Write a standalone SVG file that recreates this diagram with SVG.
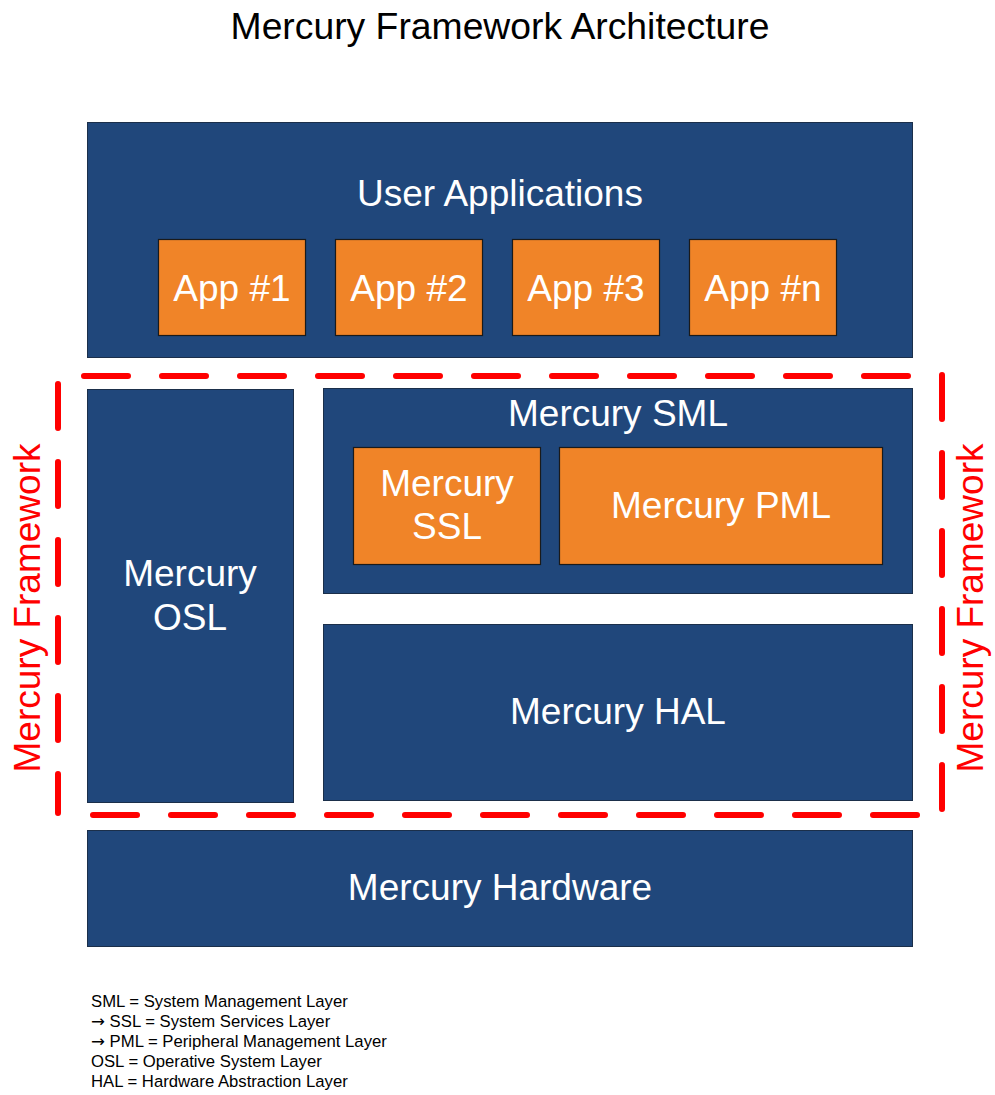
<svg xmlns="http://www.w3.org/2000/svg" width="995" height="1095" viewBox="0 0 995 1095">
<style>
.navy{fill:#20477B;stroke:#1B2F4A;stroke-width:1}
.orng{fill:#F08428;stroke:#1A1A1A;stroke-width:1.2}
.lbl{font-family:"Liberation Sans",Arial,sans-serif;font-size:37px;fill:#FFFFFF;text-anchor:middle}
.title{font-family:"Liberation Sans",Arial,sans-serif;font-size:37.3px;fill:#000000;text-anchor:middle}
.side{font-family:"Liberation Sans",Arial,sans-serif;font-size:37px;fill:#FF0000;text-anchor:middle}
.legend{font-family:"Liberation Sans",Arial,sans-serif;font-size:16.7px;fill:#000000}
.arr{font-family:"DejaVu Sans",sans-serif}
.dash{stroke:#FF0000;stroke-width:6;stroke-linecap:round;stroke-dasharray:44 34;fill:none}
</style>
<rect width="995" height="1095" fill="#FFFFFF"/>
<text class="title" x="500" y="39">Mercury Framework Architecture</text>

<g id="user-applications">
<rect class="navy" x="87.5" y="122.5" width="825" height="235"/>
<text class="lbl" x="500" y="206">User Applications</text>
</g>
<g id="app1">
<rect class="orng" x="158.5" y="239.5" width="147" height="96"/>
<text class="lbl" x="232" y="301">App #1</text>
</g>
<g id="app2">
<rect class="orng" x="335.5" y="239.5" width="147" height="96"/>
<text class="lbl" x="409" y="301">App #2</text>
</g>
<g id="app3">
<rect class="orng" x="512.5" y="239.5" width="147" height="96"/>
<text class="lbl" x="586" y="301">App #3</text>
</g>
<g id="appn">
<rect class="orng" x="689.5" y="239.5" width="147" height="96"/>
<text class="lbl" x="763" y="301">App #n</text>
</g>

<g id="mercury-osl">
<rect class="navy" x="87.5" y="389.5" width="206" height="413"/>
<text class="lbl" x="190" y="586">Mercury</text>
<text class="lbl" x="190" y="630">OSL</text>
</g>
<g id="mercury-sml">
<rect class="navy" x="323.5" y="388.5" width="589" height="205"/>
<text class="lbl" x="618" y="426">Mercury SML</text>
</g>
<g id="mercury-ssl">
<rect class="orng" x="353.5" y="447.5" width="187" height="117"/>
<text class="lbl" x="447" y="496">Mercury</text>
<text class="lbl" x="447" y="539">SSL</text>
</g>
<g id="mercury-pml">
<rect class="orng" x="559.5" y="447.5" width="323" height="117"/>
<text class="lbl" x="721" y="518">Mercury PML</text>
</g>
<g id="mercury-hal">
<rect class="navy" x="323.5" y="624.5" width="589" height="176"/>
<text class="lbl" x="618" y="724">Mercury HAL</text>
</g>
<g id="mercury-hardware">
<rect class="navy" x="87.5" y="830.5" width="825" height="116"/>
<text class="lbl" x="500" y="900">Mercury Hardware</text>
</g>

<g id="mercury-framework">
<line class="dash" x1="84" y1="376" x2="941" y2="376"/>
<line class="dash" x1="93" y1="815" x2="941" y2="815"/>
<line class="dash" x1="58" y1="384" x2="58" y2="813"/>
<line class="dash" x1="942" y1="375" x2="942" y2="815"/>
<text class="side" transform="translate(40,608) rotate(-90)">Mercury Framework</text>
<text class="side" transform="translate(983,608) rotate(-90)">Mercury Framework</text>
</g>

<g id="legend">
<text class="legend" x="91" y="1007">SML = System Management Layer</text>
<text class="legend" x="91" y="1027"><tspan class="arr">→</tspan> SSL = System Services Layer</text>
<text class="legend" x="91" y="1047"><tspan class="arr">→</tspan> PML = Peripheral Management Layer</text>
<text class="legend" x="91" y="1067">OSL = Operative System Layer</text>
<text class="legend" x="91" y="1087">HAL = Hardware Abstraction Layer</text>
</g>
</svg>
